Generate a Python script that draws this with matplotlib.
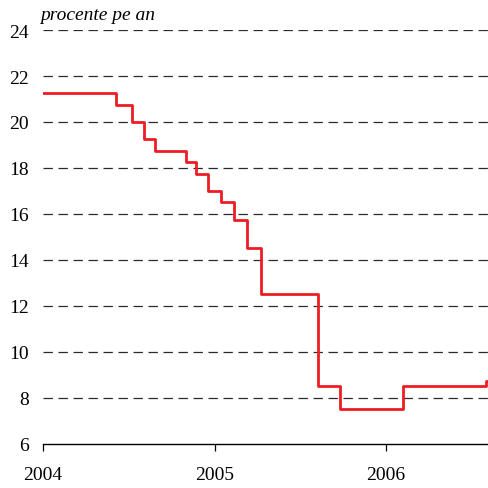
import matplotlib
matplotlib.use('Agg')
import matplotlib.pyplot as plt
import matplotlib.dates as mdates
import pandas as pd

# policy rate change dates and levels (% per year)
dates = ['2004-01-01', '2004-06-05', '2004-07-09', '2004-08-04', '2004-08-27',
         '2004-11-01', '2004-11-23', '2004-12-18', '2005-01-15', '2005-02-12',
         '2005-03-11', '2005-04-10', '2005-08-09', '2005-09-25', '2006-02-06',
         '2006-08-03', '2006-08-07']
rates = [21.25, 20.75, 20.0, 19.25, 18.75,
         18.25, 17.75, 17.0, 16.5, 15.75,
         14.5, 12.5, 8.5, 7.5, 8.5,
         8.75, 8.75]
yticks = [6, 8, 10, 12, 14, 16, 18, 20, 22, 24]
xyears = ['2004', '2005', '2006']

dates = pd.to_datetime(dates)

plt.rcParams['font.family'] = ['Liberation Serif', 'DejaVu Serif']

fig = plt.figure(figsize=(4.88, 4.89), dpi=100)
ax = fig.add_axes([0.088, 0.09, 0.912, 0.8466])

for y in yticks[1:]:
    ax.axhline(y, color='#2a2a2a', lw=0.9, dashes=(7.5, 4.5), zorder=1)

ax.plot(dates, rates, drawstyle='steps-post', color='#ee1c25', lw=2.0, zorder=3)

ax.set_ylim(6, 24)
ax.set_yticks(yticks)
ax.set_xlim(pd.Timestamp('2004-01-01'), pd.Timestamp('2006-08-07'))
ax.set_xticks(pd.to_datetime([y + '-01-01' for y in xyears]))
ax.xaxis.set_major_formatter(mdates.DateFormatter('%Y'))

for s in ['left', 'right', 'top']:
    ax.spines[s].set_visible(False)
ax.spines['bottom'].set_linewidth(1.0)
ax.tick_params(axis='y', length=0, pad=10, labelsize=14)
ax.tick_params(axis='x', direction='out', length=5, width=0.9, pad=11, labelsize=14)

fig.text(0.082, 0.968, 'procente pe an', style='italic', fontsize=14,
         ha='left', va='center')

plt.savefig('out.png', dpi=100)
